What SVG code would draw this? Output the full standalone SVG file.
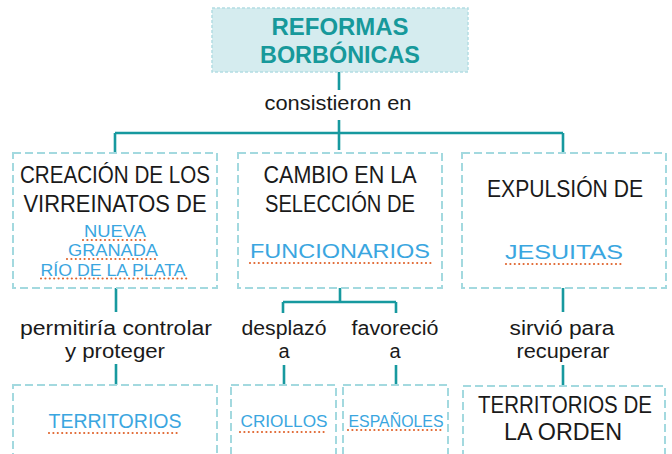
<svg xmlns="http://www.w3.org/2000/svg" width="672" height="454" viewBox="0 0 672 454">
<style>
.box{fill:#ffffff;stroke:#a3d9df;stroke-width:2;stroke-dasharray:8 4}
.title{fill:#d5ecef;stroke:#b3dde3;stroke-width:1.5;stroke-dasharray:3 2}
.tt{font-family:"Liberation Sans",Arial,sans-serif;font-weight:bold;font-size:24px;fill:#17999b;text-anchor:middle}
.bk{font-family:"Liberation Sans",Arial,sans-serif;font-size:24px;fill:#1a1a1a;text-anchor:middle}
.lb{font-family:"Liberation Sans",Arial,sans-serif;font-size:20px;fill:#1a1a1a;text-anchor:middle}
.bl{font-family:"Liberation Sans",Arial,sans-serif;font-size:20px;fill:#3aa6e0;text-anchor:middle}
.bm{font-family:"Liberation Sans",Arial,sans-serif;font-size:17px;fill:#3aa6e0;text-anchor:middle}
.bs{font-family:"Liberation Sans",Arial,sans-serif;font-size:17px;fill:#3aa6e0;text-anchor:middle}
.dot{stroke:#e0652e;stroke-width:2.2;stroke-linecap:round;stroke-dasharray:0 4.4;fill:none}
.con{stroke:#17999f;stroke-width:2.6;fill:none}
</style>
<g id="connectors">
<path class="con" d="M339 72V90M339 120V150M115 133H563M115 133V152M563 133V152"/>
<path class="con" d="M116 288V312M116 364V386"/>
<path class="con" d="M340 288V302M283 302H396M283 302V313M396 302V313M284 365V385M396 365V385"/>
<path class="con" d="M563 288V312M563 365V386"/>
</g>
<g id="title">
<rect class="title" x="212" y="8" width="256" height="64"/>
<text class="tt" x="340" y="35" textLength="137" lengthAdjust="spacingAndGlyphs">REFORMAS</text>
<text class="tt" x="340" y="63" textLength="160" lengthAdjust="spacingAndGlyphs">BORBÓNICAS</text>
</g>
<g id="label-consistieron">
<text class="lb" x="338" y="110" textLength="147" lengthAdjust="spacingAndGlyphs">consistieron en</text>
</g>
<g id="node-creacion">
<rect class="box" x="13" y="153" width="204" height="135"/>
<text class="bk" x="115" y="183" textLength="190" lengthAdjust="spacingAndGlyphs">CREACIÓN DE LOS</text>
<text class="bk" x="115" y="212" textLength="183" lengthAdjust="spacingAndGlyphs">VIRREINATOS DE</text>
<text class="bm" x="115" y="237" textLength="62" lengthAdjust="spacingAndGlyphs">NUEVA</text>
<line class="dot" x1="83" y1="240" x2="148" y2="240"/>
<text class="bm" x="113" y="256" textLength="90" lengthAdjust="spacingAndGlyphs">GRANADA</text>
<line class="dot" x1="67" y1="259" x2="157" y2="259"/>
<text class="bm" x="113" y="276" textLength="145" lengthAdjust="spacingAndGlyphs">RÍO DE LA PLATA</text>
<line class="dot" x1="41" y1="278.5" x2="187" y2="278.5"/>
</g>
<g id="node-cambio">
<rect class="box" x="238" y="153" width="204" height="135"/>
<text class="bk" x="340" y="183" textLength="153" lengthAdjust="spacingAndGlyphs">CAMBIO EN LA</text>
<text class="bk" x="340" y="212" textLength="150" lengthAdjust="spacingAndGlyphs">SELECCIÓN DE</text>
<text class="bl" x="340" y="258" textLength="180" lengthAdjust="spacingAndGlyphs">FUNCIONARIOS</text>
<line class="dot" x1="250" y1="263" x2="431" y2="263"/>
</g>
<g id="node-expulsion">
<rect class="box" x="462" y="153" width="204" height="135"/>
<text class="bk" x="565" y="197" textLength="156" lengthAdjust="spacingAndGlyphs">EXPULSIÓN DE</text>
<text class="bl" x="564" y="259" textLength="118" lengthAdjust="spacingAndGlyphs">JESUITAS</text>
<line class="dot" x1="506" y1="264" x2="623" y2="264"/>
</g>
<g id="label-permitiria">
<text class="lb" x="116" y="335" textLength="192" lengthAdjust="spacingAndGlyphs">permitiría controlar</text>
<text class="lb" x="115" y="358" textLength="100" lengthAdjust="spacingAndGlyphs">y proteger</text>
</g>
<g id="label-desplazo">
<text class="lb" x="284" y="335" textLength="85" lengthAdjust="spacingAndGlyphs">desplazó</text>
<text class="lb" x="284" y="358">a</text>
</g>
<g id="label-favorecio">
<text class="lb" x="395" y="335" textLength="87" lengthAdjust="spacingAndGlyphs">favoreció</text>
<text class="lb" x="395" y="358">a</text>
</g>
<g id="label-sirvio">
<text class="lb" x="562" y="335" textLength="105" lengthAdjust="spacingAndGlyphs">sirvió para</text>
<text class="lb" x="563" y="358" textLength="93" lengthAdjust="spacingAndGlyphs">recuperar</text>
</g>
<g id="node-territorios">
<rect class="box" x="13" y="385" width="204" height="80"/>
<text class="bl" x="115" y="428" textLength="133" lengthAdjust="spacingAndGlyphs">TERRITORIOS</text>
<line class="dot" x1="49" y1="433" x2="181" y2="433"/>
</g>
<g id="node-criollos">
<rect class="box" x="231" y="385" width="105" height="80"/>
<text class="bs" x="284" y="427" textLength="87" lengthAdjust="spacingAndGlyphs">CRIOLLOS</text>
<line class="dot" x1="240" y1="432" x2="327" y2="432"/>
</g>
<g id="node-espanoles">
<rect class="box" x="343" y="385" width="105" height="80"/>
<text class="bs" x="396" y="427" textLength="95" lengthAdjust="spacingAndGlyphs">ESPAÑOLES</text>
<line class="dot" x1="348" y1="430" x2="443" y2="430"/>
</g>
<g id="node-territorios-orden">
<rect class="box" x="463" y="386" width="202" height="80"/>
<text class="bk" x="565" y="413" font-size="22" textLength="174" lengthAdjust="spacingAndGlyphs">TERRITORIOS DE</text>
<text class="bk" x="563" y="440" font-size="22" textLength="118" lengthAdjust="spacingAndGlyphs">LA ORDEN</text>
</g>
</svg>
